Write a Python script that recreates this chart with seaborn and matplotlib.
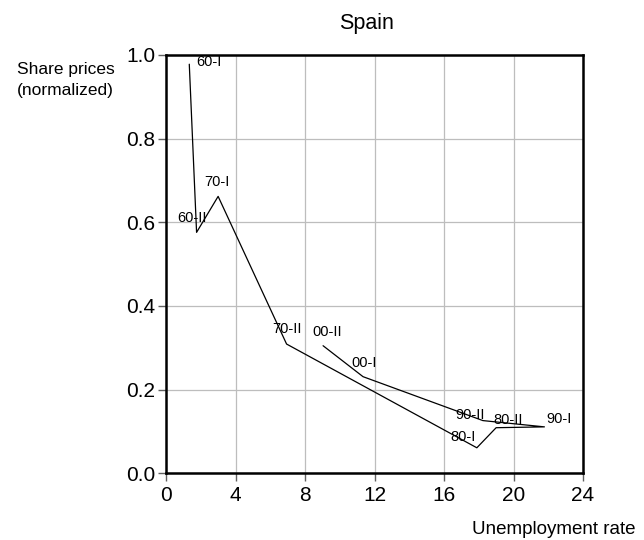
import matplotlib
matplotlib.use("Agg")
import matplotlib.pyplot as plt
import seaborn as sns
import pandas as pd

periods = ["60-I", "60-II", "70-I", "70-II", "80-I", "80-II", "90-I", "90-II", "00-I", "00-II"]
unemployment = [1.34, 1.76, 3.0, 6.94, 17.89, 19.0, 21.78, 18.24, 11.34, 9.04]
share_prices = [0.978, 0.576, 0.662, 0.309, 0.061, 0.109, 0.111, 0.126, 0.231, 0.305]
x_ticks = [0, 4, 8, 12, 16, 20, 24]
y_ticks = [0.0, 0.2, 0.4, 0.6, 0.8, 1.0]

# label offsets in pixels (layout)
label_offsets = {
    "60-I": (7, 2), "60-II": (-19, 14), "70-I": (-14, 14), "70-II": (-14, 15),
    "80-I": (-26, 11), "80-II": (-3, 8), "90-I": (2, 8), "90-II": (-28, 6),
    "00-I": (-12, 14), "00-II": (-11, 14),
}

df = pd.DataFrame({"period": periods, "u": unemployment, "p": share_prices})

sns.set_theme(style="white")
plt.rcParams["font.family"] = ["Liberation Sans", "DejaVu Sans"]
plt.rcParams["text.color"] = "black"

W, H = 644, 540
fig = plt.figure(figsize=(W/100, H/100), dpi=100)
ax = fig.add_axes([166/W, 1-473.3/H, (583-166)/W, (473.3-55)/H])

sns.lineplot(data=df, x="u", y="p", sort=False, color="black", linewidth=0.9,
             estimator=None, ax=ax)

for per, xv, yv in zip(periods, unemployment, share_prices):
    dx, dy = label_offsets[per]
    ax.annotate(per, (xv, yv), xytext=(dx, dy), textcoords="offset pixels",
                ha="left", va="center", fontsize=10.5, color="black")

ax.set_xlim(0, 24)
ax.set_ylim(0, 1.0)
ax.set_xticks(x_ticks)
ax.set_yticks(y_ticks)
ax.set_xticklabels([str(t) for t in x_ticks])
ax.set_yticklabels([f"{t:.1f}" for t in y_ticks])
ax.tick_params(axis="both", labelsize=15, direction="out", length=5.5, width=1,
               color="#606060", labelcolor="black", bottom=True, left=True)
ax.tick_params(axis="x", pad=3.5)
ax.tick_params(axis="y", pad=2)
ax.grid(True, color="#bdbdbd", linewidth=0.9)
ax.set_axisbelow(True)
for s in ax.spines.values():
    s.set_color("black")
    s.set_linewidth(1.8)
ax.set_xlabel("")
ax.set_ylabel("")

fig.text(366/W, 1-29/H, "Spain", ha="center", va="baseline", fontsize=15.5, color="black")
fig.text(17/W, 1-74/H, "Share prices", ha="left", va="baseline", fontsize=12.5, color="black")
fig.text(17/W, 1-95/H, "(normalized)", ha="left", va="baseline", fontsize=12.5, color="black")
fig.text(635/W, 1-534/H, "Unemployment rate", ha="right", va="baseline", fontsize=13.5, color="black")

fig.savefig("out.png", dpi=100, facecolor="white")
